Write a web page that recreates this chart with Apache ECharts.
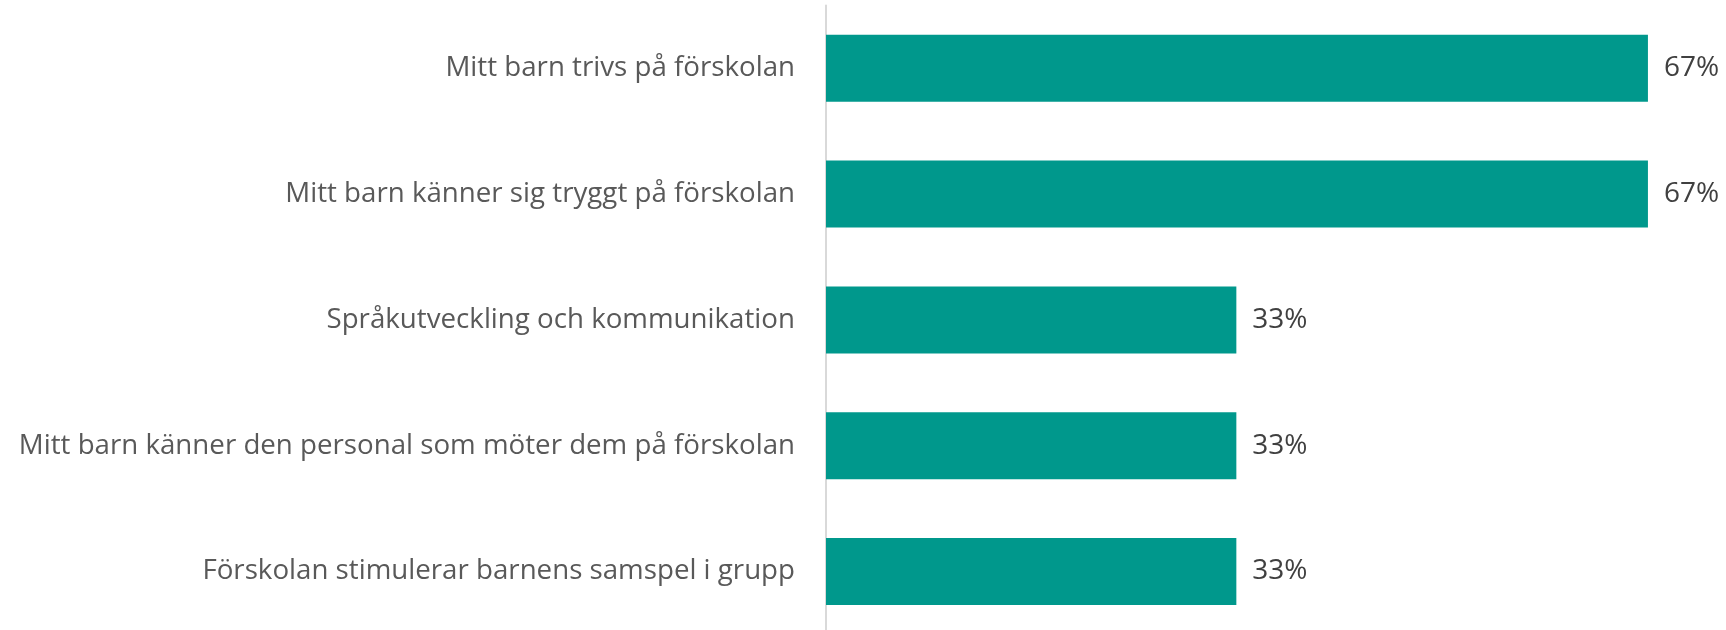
<!DOCTYPE html>
<html>
<head>
<meta charset="utf-8">
<script src="https://cdn.jsdelivr.net/npm/echarts@6/dist/echarts.min.js"></script>
<style>
html,body{margin:0;padding:0;background:#fff;}
#chart{width:1726px;height:630px;}
</style>
</head>
<body>
<div id="chart"></div>
<script>
const categories = [
  "Mitt barn trivs på förskolan",
  "Mitt barn känner sig tryggt på förskolan",
  "Språkutveckling och kommunikation",
  "Mitt barn känner den personal som möter dem på förskolan",
  "Förskolan stimulerar barnens samspel i grupp"
];
const values = [66.7, 66.7, 33.3, 33.3, 33.3];

const chart = echarts.init(document.getElementById('chart'), null, {renderer: 'canvas'});
chart.setOption({
  animation: false,
  grid: {left: 826, width: 862.6, top: 5.4, height: 629, containLabel: false, outerBoundsMode: 'none'},
  xAxis: {
    type: 'value', min: 0, max: 70,
    show: false
  },
  yAxis: {
    type: 'category',
    data: categories,
    inverse: true,
    axisLine: {show: true, lineStyle: {color: '#D9D9D9', width: 2}},
    axisTick: {show: false},
    axisLabel: {
      color: '#595959',
      fontFamily: 'Open Sans',
      fontSize: 27.7,
      margin: 31
    }
  },
  series: [{
    type: 'bar',
    data: values,
    barWidth: 67,
    itemStyle: {color: '#00988C'},
    label: {
      show: true,
      position: 'right',
      distance: 16,
      color: '#404040',
      fontFamily: 'Open Sans',
      fontSize: 28,
      formatter: p => Math.round(p.value) + '%'
    }
  }]
});
</script>
</body>
</html>
